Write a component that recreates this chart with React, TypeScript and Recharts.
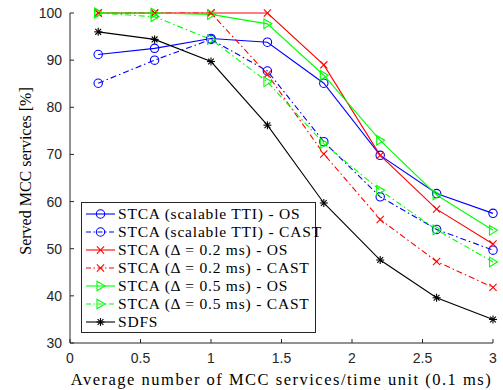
import { LineChart, Line, XAxis, YAxis, Legend, Label } from 'recharts';

const xValues = [0.2, 0.6, 1.0, 1.4, 1.8, 2.2, 2.6, 3.0];
const stcaTtiOs = [91.2, 92.5, 94.6, 93.8, 85.1, 69.8, 61.7, 57.5];
const stcaTtiCast = [85.1, 90.0, 94.4, 87.7, 72.7, 61.0, 54.1, 49.7];
const stca02Os = [100, 100, 100, 100, 89.0, 69.8, 58.4, 51.0];
const stca02Cast = [100, 100, 100, 87.0, 70.1, 56.2, 47.3, 41.8];
const stca05Os = [100, 100, 99.7, 97.7, 86.8, 73.0, 61.4, 53.9];
const stca05Cast = [100, 99.2, 94.4, 85.4, 72.3, 62.4, 54.0, 47.2];
const sdfs = [96.0, 94.4, 89.7, 76.2, 59.7, 47.6, 39.6, 35.0];

const xTicks = [0, 0.5, 1, 1.5, 2, 2.5, 3];
const yTicks = [30, 40, 50, 60, 70, 80, 90, 100];

const data = xValues.map((x, i) => ({
  x,
  ttiOs: stcaTtiOs[i],
  ttiCast: stcaTtiCast[i],
  d02Os: stca02Os[i],
  d02Cast: stca02Cast[i],
  d05Os: stca05Os[i],
  d05Cast: stca05Cast[i],
  sdfs: sdfs[i],
}));

const DASH_DOT = '6 3 1.5 3';
const AXIS = '#262626';
const SERIF = '"Liberation Serif", serif';

type MarkerKind = 'circle' | 'cross' | 'triangle' | 'star';

const Marker = ({ kind, cx, cy, color }: { kind: MarkerKind; cx: number; cy: number; color: string }) => {
  if (kind === 'circle') {
    return <circle cx={cx} cy={cy} r={4.2} fill="none" stroke={color} strokeWidth={1.1} />;
  }
  if (kind === 'cross') {
    const s = 3.6;
    return (
      <g stroke={color} strokeWidth={1.1}>
        <line x1={cx - s} y1={cy - s} x2={cx + s} y2={cy + s} />
        <line x1={cx - s} y1={cy + s} x2={cx + s} y2={cy - s} />
      </g>
    );
  }
  if (kind === 'triangle') {
    return (
      <polygon
        points={`${cx + 4.5},${cy} ${cx - 3.5},${cy - 4.8} ${cx - 3.5},${cy + 4.8}`}
        fill="none"
        stroke={color}
        strokeWidth={1.1}
      />
    );
  }
  const s = 4;
  const d = 2.9;
  return (
    <g stroke={color} strokeWidth={1.1}>
      <line x1={cx - s} y1={cy} x2={cx + s} y2={cy} />
      <line x1={cx} y1={cy - s} x2={cx} y2={cy + s} />
      <line x1={cx - d} y1={cy - d} x2={cx + d} y2={cy + d} />
      <line x1={cx - d} y1={cy + d} x2={cx + d} y2={cy - d} />
    </g>
  );
};

const series = [
  { key: 'ttiOs', name: 'STCA (scalable TTI) - OS', color: '#0000ff', dash: undefined, marker: 'circle' as MarkerKind },
  { key: 'ttiCast', name: 'STCA (scalable TTI) - CAST', color: '#0000ff', dash: DASH_DOT, marker: 'circle' as MarkerKind },
  { key: 'd02Os', name: 'STCA (Δ = 0.2 ms) - OS', color: '#ff0000', dash: undefined, marker: 'cross' as MarkerKind },
  { key: 'd02Cast', name: 'STCA (Δ = 0.2 ms) - CAST', color: '#ff0000', dash: DASH_DOT, marker: 'cross' as MarkerKind },
  { key: 'd05Os', name: 'STCA (Δ = 0.5 ms) - OS', color: '#00ff00', dash: undefined, marker: 'triangle' as MarkerKind },
  { key: 'd05Cast', name: 'STCA (Δ = 0.5 ms) - CAST', color: '#00ff00', dash: DASH_DOT, marker: 'triangle' as MarkerKind },
  { key: 'sdfs', name: 'SDFS', color: '#000000', dash: undefined, marker: 'star' as MarkerKind },
];

const renderLegend = () => (
  <div
    style={{
      width: 235,
      height: 131,
      border: `1px solid ${AXIS}`,
      background: '#fff',
      fontFamily: SERIF,
      fontSize: 15.5,
      letterSpacing: 0.8,
      color: '#000',
      padding: '2px 0 0 3px',
      boxSizing: 'border-box',
    }}
  >
    {series.map((s) => (
      <div key={s.key} style={{ display: 'flex', alignItems: 'center', height: 18 }}>
        <svg width={31} height={14} style={{ flex: 'none' }}>
          <line x1={1} y1={7} x2={30} y2={7} stroke={s.color} strokeWidth={1.1} strokeDasharray={s.dash ? '5 2.5 1.5 2.5' : undefined} />
          <Marker kind={s.marker} cx={15.5} cy={7} color={s.color} />
        </svg>
        <span style={{ marginLeft: 2, whiteSpace: 'nowrap' }}>{s.name}</span>
      </div>
    ))}
  </div>
);

const tickStyle = { fill: AXIS, fontSize: 14, fontFamily: '"Liberation Sans", Arial, sans-serif' };
const blank = () => '';

export default function App() {
  return (
    <div style={{ position: 'absolute', left: 0, top: 0, background: '#fff' }}>
      <LineChart width={503} height={390} data={data} margin={{ top: 13, right: 10, left: 0, bottom: 0 }}>
        <XAxis
          xAxisId="b"
          dataKey="x"
          type="number"
          domain={[0, 3]}
          ticks={xTicks}
          height={47}
          stroke={AXIS}
          tickSize={-4}
          tickMargin={14}
          tick={tickStyle}
          tickFormatter={(v) => String(v)}
        >
          <Label
            value="Average number of MCC services/time unit (0.1 ms)"
            position="center"
            dy={13}
            style={{ fill: '#000', fontSize: 16.5, letterSpacing: 1.5, fontFamily: SERIF }}
          />
        </XAxis>
        <XAxis
          xAxisId="t"
          orientation="top"
          dataKey="x"
          type="number"
          domain={[0, 3]}
          ticks={xTicks}
          height={0}
          stroke={AXIS}
          tickSize={-4}
          tickFormatter={blank}
        />
        <YAxis
          yAxisId="l"
          type="number"
          domain={[30, 100]}
          ticks={yTicks}
          width={70}
          stroke={AXIS}
          tickSize={-4}
          tickMargin={12}
          tick={tickStyle}
        >
          <Label
            value="Served MCC services [%]"
            angle={-90}
            position="center"
            dx={-10}
            dy={-7}
            style={{ fill: '#000', fontSize: 16, fontFamily: SERIF, textAnchor: 'middle' }}
          />
        </YAxis>
        <YAxis
          yAxisId="r"
          orientation="right"
          type="number"
          domain={[30, 100]}
          ticks={yTicks}
          width={0}
          stroke={AXIS}
          tickSize={-4}
          tickFormatter={blank}
        />
        {series.map((s) => (
          <Line
            key={s.key}
            xAxisId="b"
            yAxisId="l"
            type="linear"
            dataKey={s.key}
            name={s.name}
            stroke={s.color}
            strokeWidth={1.1}
            strokeDasharray={s.dash}
            isAnimationActive={false}
            dot={(p: any) => <Marker key={`${s.key}-${p.index}`} kind={s.marker} cx={p.cx} cy={p.cy} color={s.color} />}
            activeDot={false}
          />
        ))}
        <Legend
          layout="vertical"
          align="center"
          verticalAlign="middle"
          content={renderLegend}
          wrapperStyle={{ left: 81, top: 202, width: 235, height: 131 }}
        />
      </LineChart>
    </div>
  );
}
